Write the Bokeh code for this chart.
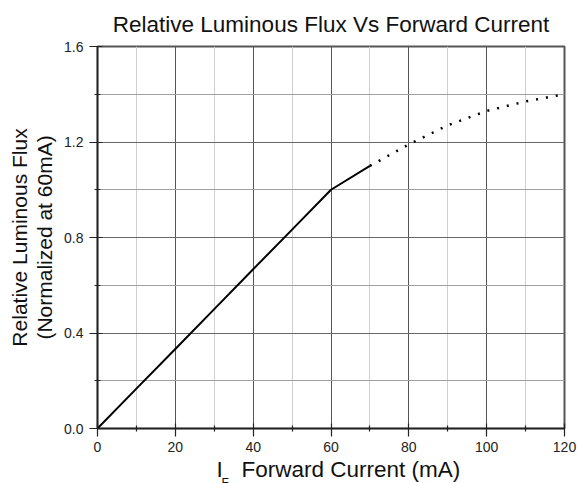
from bokeh.plotting import figure
from bokeh.models import Range1d, FixedTicker, PrintfTickFormatter, Title
from bokeh.embed import file_html
from bokeh.resources import INLINE

# ---- data ----
current_solid = [0, 10, 20, 30, 40, 50, 60, 70]
flux_solid = [0.0, 0.167, 0.333, 0.5, 0.667, 0.833, 1.0, 1.1]
current_dotted = [70, 80, 90, 100, 110, 120]
flux_dotted = [1.1, 1.19, 1.27, 1.33, 1.37, 1.40]

x_major = [0, 20, 40, 60, 80, 100, 120]
x_minor = [10, 30, 50, 70, 90, 110]
y_major = [0.0, 0.4, 0.8, 1.2, 1.6]
y_minor = [0.2, 0.6, 1.0, 1.4]

title_text = "Relative Luminous Flux Vs Forward Current"
ylabel_1 = "Relative Luminous Flux"
ylabel_2 = "(Normalized at 60mA)"
xlabel_main = "I\u2002\u2004Forward Current (mA)"
xlabel_sub = "F"

FONT = "Liberation Sans"
TXT = "#111111"

p = figure(width=578, height=483, output_backend="svg", toolbar_location=None,
           x_range=Range1d(0, 120), y_range=Range1d(0, 1.6),
           min_border_left=97, min_border_right=14, min_border_top=46,
           min_border_bottom=55)
p.background_fill_color = "white"
p.border_fill_color = "white"
p.outline_line_color = "#555555"
p.outline_line_width = 2

# title
p.title.text = title_text
p.title.align = "center"
p.title.offset = 2
p.title.text_font = FONT
p.title.text_font_size = "22.5px"
p.title.text_font_style = "normal"
p.title.text_color = TXT
p.title.standoff = 19

for ax in (p.xaxis[0], p.yaxis[0]):
    ax.axis_line_color = "#222222"
    ax.axis_line_width = 1.5
    ax.major_tick_line_color = "#222222"
    ax.minor_tick_line_color = "#222222"
    ax.major_tick_line_width = 1.2
    ax.minor_tick_line_width = 1.2
    ax.major_tick_in = 5
    ax.major_tick_out = 8
    ax.minor_tick_in = 3
    ax.minor_tick_out = 3
    ax.major_label_text_font = FONT
    ax.major_label_text_font_size = "14px"
    ax.major_label_text_color = "#222222"
    ax.axis_label_text_font = FONT
    ax.axis_label_text_font_style = "normal"
    ax.axis_label_text_color = TXT

p.xaxis[0].ticker = FixedTicker(ticks=x_major, minor_ticks=x_minor)
p.xaxis[0].formatter = PrintfTickFormatter(format="%d")
p.xaxis[0].major_label_standoff = 5
p.yaxis[0].ticker = FixedTicker(ticks=y_major, minor_ticks=y_minor)
p.yaxis[0].formatter = PrintfTickFormatter(format="%.1f")
p.yaxis[0].major_label_standoff = 6
p.yaxis[0].axis_label = ylabel_2
p.yaxis[0].axis_label_text_font_size = "21px"
p.yaxis[0].axis_label_standoff = 5

p.xgrid[0].ticker = FixedTicker(ticks=x_major, minor_ticks=x_minor)
p.ygrid[0].ticker = FixedTicker(ticks=y_major, minor_ticks=y_minor)
p.xgrid.grid_line_color = "#555555"
p.xgrid.minor_grid_line_color = "#d0d0d0"
p.ygrid.grid_line_color = "#666666"
p.ygrid.minor_grid_line_color = "#a0a0a0"

p.line(current_solid, flux_solid, line_color="black", line_width=2)
p.line(current_dotted, flux_dotted, line_color="black", line_width=2.5,
       line_dash="2 8")

# outer line of the y label
p.add_layout(Title(text=ylabel_1, align="center", text_font=FONT,
                   text_font_size="21px", text_font_style="normal",
                   text_color=TXT, standoff=-1), "left")

# x label with subscript
p.add_layout(Title(text=xlabel_main, align="left", offset=119, text_font=FONT,
                   text_font_size="22.5px", text_font_style="normal",
                   text_color=TXT, standoff=0.5), "below")
p.add_layout(Title(text=xlabel_sub, align="left", offset=124, text_font=FONT,
                   text_font_size="12px", text_font_style="normal",
                   vertical_align="middle",
                   text_color=TXT, standoff=-22), "below")

open("out.html", "w").write(file_html(p, INLINE))
